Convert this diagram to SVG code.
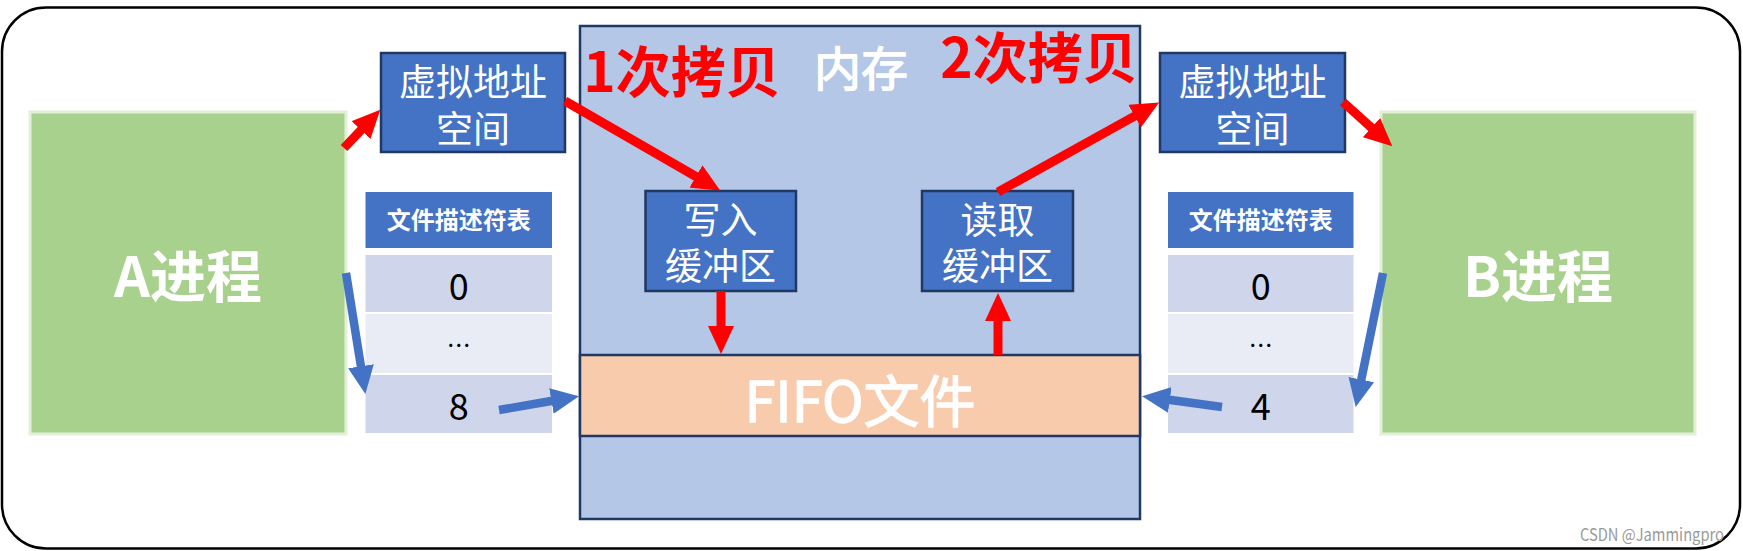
<svg xmlns="http://www.w3.org/2000/svg" width="1743" height="551" viewBox="0 0 1743 551">
<defs>
<style>
text{font-family:"Noto Sans CJK SC","Noto Sans",sans-serif;text-anchor:middle;dominant-baseline:central}
.proc{fill:#A9D18E;stroke:#E2F0D9;stroke-width:3}
.box{fill:#4472C4;stroke:#1F3864;stroke-width:2.5}
.w{fill:#FFFFFF}
.med{stroke:#FFFFFF;stroke-width:1.3}
.hdr{fill:#4472C4}
.r1{fill:#CFD5EA}
.r2{fill:#E9EBF5}
.red{stroke:#FF0000;stroke-width:9;fill:none}
.blue{stroke:#4472C4;stroke-width:8.5;fill:none}
.copy{fill:#FF0000;font-weight:bold;font-size:55px}
</style>
<marker id="hr" viewBox="0 0 28 26" refX="1" refY="13" markerWidth="28" markerHeight="26" markerUnits="userSpaceOnUse" orient="auto"><path d="M0,0 L28,13 L0,26 z" fill="#FF0000"/></marker>
<marker id="hb" viewBox="0 0 28 26" refX="1" refY="13" markerWidth="28" markerHeight="26" markerUnits="userSpaceOnUse" orient="auto"><path d="M0,0 L28,13 L0,26 z" fill="#4472C4"/></marker>
</defs>
<rect x="2" y="7.5" width="1738" height="541" rx="44" ry="44" fill="#FFFFFF" stroke="#000000" stroke-width="2.5"/>

<g id="memory">
<rect x="580" y="26" width="560" height="493" fill="#B4C7E7" stroke="#1F3864" stroke-width="2.5"/>
<text x="861" y="65" class="w med" font-size="47">内存</text>
</g>
<g id="fifo">
<rect x="580" y="355" width="560" height="81" fill="#F8CBAD" stroke="#1F3864" stroke-width="2.5"/>
<text x="860" y="397" class="w med" font-size="56">FIFO文件</text>
</g>
<g id="copy1"><text x="682" y="68" class="copy">1次拷贝</text></g>
<g id="copy2"><text x="1039" y="54" class="copy">2次拷贝</text></g>

<g id="procA">
<rect x="30" y="112" width="316" height="322" class="proc"/>
<text x="188" y="272" class="w" font-size="56" font-weight="bold">A进程</text>
</g>
<g id="procB">
<rect x="1381" y="112" width="314" height="322" class="proc"/>
<text x="1538" y="272" class="w" font-size="56" font-weight="bold">B进程</text>
</g>

<g id="vaddrA">
<rect x="381" y="53" width="184" height="99" class="box"/>
<text x="473" y="80" class="w" font-size="37">虚拟地址</text>
<text x="473" y="127" class="w" font-size="37">空间</text>
</g>
<g id="vaddrB">
<rect x="1160" y="53" width="185" height="99" class="box"/>
<text x="1252.5" y="80" class="w" font-size="37">虚拟地址</text>
<text x="1252.5" y="127" class="w" font-size="37">空间</text>
</g>

<g id="wbuf">
<rect x="645.5" y="191" width="150.5" height="100" class="box"/>
<text x="720.5" y="218" class="w" font-size="37">写入</text>
<text x="720.5" y="264" class="w" font-size="37">缓冲区</text>
</g>
<g id="rbuf">
<rect x="922" y="191" width="151" height="100" class="box"/>
<text x="997.5" y="218" class="w" font-size="37">读取</text>
<text x="997.5" y="264" class="w" font-size="37">缓冲区</text>
</g>

<g id="fdA">
<rect x="365.5" y="192" width="186.5" height="56" class="hdr"/>
<text x="458.75" y="218" class="w" font-size="24" font-weight="bold">文件描述符表</text>
<rect x="365.5" y="255" width="186.5" height="57" class="r1"/>
<text x="458.75" y="283.5" font-size="36" fill="#000">0</text>
<rect x="365.5" y="314" width="186.5" height="59" class="r2"/>
<text x="458.75" y="343" font-size="24" fill="#000">…</text>
<rect x="365.5" y="375" width="186.5" height="58" class="r1"/>
<text x="458.75" y="404" font-size="36" fill="#000">8</text>
</g>
<g id="fdB">
<rect x="1168" y="192" width="185.5" height="56" class="hdr"/>
<text x="1260.75" y="218" class="w" font-size="24" font-weight="bold">文件描述符表</text>
<rect x="1168" y="255" width="185.5" height="57" class="r1"/>
<text x="1260.75" y="283.5" font-size="36" fill="#000">0</text>
<rect x="1168" y="314" width="185.5" height="59" class="r2"/>
<text x="1260.75" y="343" font-size="24" fill="#000">…</text>
<rect x="1168" y="375" width="185.5" height="58" class="r1"/>
<text x="1260.75" y="404" font-size="36" fill="#000">4</text>
</g>

<g id="connectors">
<line x1="344" y1="148" x2="361.7" y2="129.3" class="red" marker-end="url(#hr)"/>
<line x1="565" y1="101" x2="696.8" y2="177" class="red" marker-end="url(#hr)"/>
<line x1="721" y1="291" x2="721" y2="327" class="red" marker-end="url(#hr)"/>
<line x1="998" y1="355" x2="998" y2="320" class="red" marker-end="url(#hr)"/>
<line x1="998" y1="192" x2="1135.5" y2="115.6" class="red" marker-end="url(#hr)"/>
<line x1="1343" y1="102" x2="1372.2" y2="128.3" class="red" marker-end="url(#hr)"/>
<line x1="346" y1="273" x2="361.1" y2="367.3" class="blue" marker-end="url(#hb)"/>
<line x1="499" y1="410" x2="552.4" y2="400.8" class="blue" marker-end="url(#hb)"/>
<line x1="1222" y1="407" x2="1168.8" y2="399.8" class="blue" marker-end="url(#hb)"/>
<line x1="1383" y1="273" x2="1361.1" y2="380.6" class="blue" marker-end="url(#hb)"/>
</g>

<text x="1652" y="533" font-size="17" fill="#9a9a9a" textLength="144" lengthAdjust="spacingAndGlyphs">CSDN @Jammingpro</text>
</svg>
